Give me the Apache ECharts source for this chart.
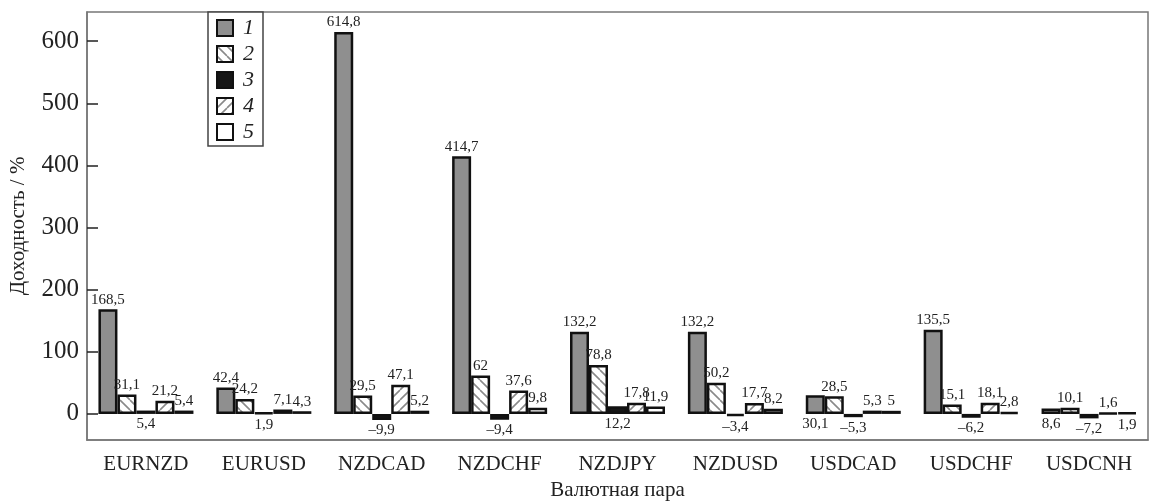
<!DOCTYPE html>
<html>
<head>
<meta charset="utf-8">
<script src="https://cdn.jsdelivr.net/npm/echarts@6/dist/echarts.min.js"></script>
<style>
  html, body { margin: 0; padding: 0; background: #fff; }
  #chart { width: 1151px; height: 502px; }
</style>
</head>
<body>
<div id="chart"></div>
<script>
// Currency pairs and yields (%) for the five strategies
const categories = ['EURNZD', 'EURUSD', 'NZDCAD', 'NZDCHF', 'NZDJPY', 'NZDUSD', 'USDCAD', 'USDCHF', 'USDCNH'];
const seriesNames = ['1', '2', '3', '4', '5'];
const values1 = [168.5, 42.4, 614.8, 414.7, 132.2, 132.2, 30.1, 135.5, 8.6];
const values2 = [31.1, 24.2, 29.5, 62, 78.8, 50.2, 28.5, 15.1, 10.1];
const values3 = [5.4, 1.9, -9.9, -9.4, 12.2, -3.4, -5.3, -6.2, -7.2];
const values4 = [21.2, 7.1, 47.1, 37.6, 17.8, 17.7, 5.3, 18.1, 1.6];
const values5 = [5.4, 4.3, 5.2, 9.8, 11.9, 8.2, 5, 2.8, 1.9];
const yTicks = [0, 100, 200, 300, 400, 500, 600];

// Category indices whose value label sits under the bar instead of above it
const labelsBelow = [[6, 8], [], categories.map((_, i) => i), [], [8]];

const SERIF = '"Liberation Serif", "DejaVu Serif", serif';

// Diagonal hatch tile; dir 'back' = "\" lines, 'fwd' = "/" lines
function hatch(dir) {
  const s = 10;
  const c = document.createElement('canvas');
  c.width = s; c.height = s;
  const g = c.getContext('2d');
  g.fillStyle = '#fff';
  g.fillRect(0, 0, s, s);
  g.strokeStyle = '#8a8a8a';
  g.lineWidth = 1.6;
  g.beginPath();
  for (let k = -1; k <= 1; k++) {
    if (dir === 'back') { g.moveTo(k * s, 0); g.lineTo(k * s + s, s); }
    else { g.moveTo(k * s, s); g.lineTo(k * s + s, 0); }
  }
  g.stroke();
  return c;
}

const fills = [
  '#8f8f8f',
  { image: hatch('back'), repeat: 'repeat' },
  '#161616',
  { image: hatch('fwd'), repeat: 'repeat' },
  '#ffffff'
];
const allValues = [values1, values2, values3, values4, values5];

function fmt(v) {
  const s = String(Math.abs(v)).replace('.', ',');
  return v < 0 ? '\u2013' + s : s;
}

const series = allValues.map((vals, si) => ({
  name: seriesNames[si],
  type: 'bar',
  barWidth: 19,
  barGap: '0%',
  itemStyle: { color: fills[si], borderColor: '#111', borderWidth: 2.5 },
  label: {
    show: true,
    position: 'top',
    distance: 2,
    fontFamily: SERIF,
    fontSize: 15,
    color: '#222',
    formatter: p => fmt(p.value)
  },
  data: vals.map((v, i) => labelsBelow[si].includes(i)
    ? { value: v, label: { position: 'bottom', distance: 3 } }
    : v)
}));

const chart = echarts.init(document.getElementById('chart'), null, { renderer: 'canvas' });
chart.setOption({
  animation: false,
  backgroundColor: '#fff',
  grid: {
    left: 87, right: 3, top: 12, bottom: 62,
    outerBoundsMode: 'none',
    containLabel: false,
    show: true, borderColor: '#777', borderWidth: 1.5
  },
  legend: {
    orient: 'vertical',
    left: 208, top: 12,
    itemWidth: 16, itemHeight: 16, itemGap: 4,
    padding: [5, 9, 3, 8],
    borderColor: '#444', borderWidth: 1.5,
    backgroundColor: '#fff',
    icon: 'rect',
    textStyle: { fontFamily: SERIF, fontStyle: 'italic', fontSize: 22, color: '#222', padding: [0, 0, 0, 5] },
    data: seriesNames
  },
  xAxis: {
    type: 'category',
    data: categories,
    name: 'Валютная пара',
    nameLocation: 'middle',
    nameGap: 40,
    nameTextStyle: { fontFamily: SERIF, fontSize: 21, color: '#222' },
    axisLine: { onZero: false, lineStyle: { color: '#777', width: 1.5 } },
    axisTick: { inside: true, alignWithLabel: true, length: 10, lineStyle: { color: '#777', width: 1.5 } },
    axisLabel: { fontFamily: SERIF, fontSize: 21, color: '#222', margin: 14 }
  },
  yAxis: {
    type: 'value',
    min: -42,
    max: 647,
    name: 'Доходность / %',
    nameLocation: 'middle',
    nameGap: 58,
    nameTextStyle: { fontFamily: SERIF, fontSize: 21, color: '#222' },
    splitLine: { show: false },
    axisLine: { show: true, lineStyle: { color: '#777', width: 1.5 } },
    axisTick: { show: true, inside: true, length: 11, customValues: yTicks, lineStyle: { color: '#222', width: 1.5 } },
    axisLabel: { fontFamily: SERIF, fontSize: 25, color: '#222', margin: 8, customValues: yTicks }
  },
  series: series
});
</script>
</body>
</html>
